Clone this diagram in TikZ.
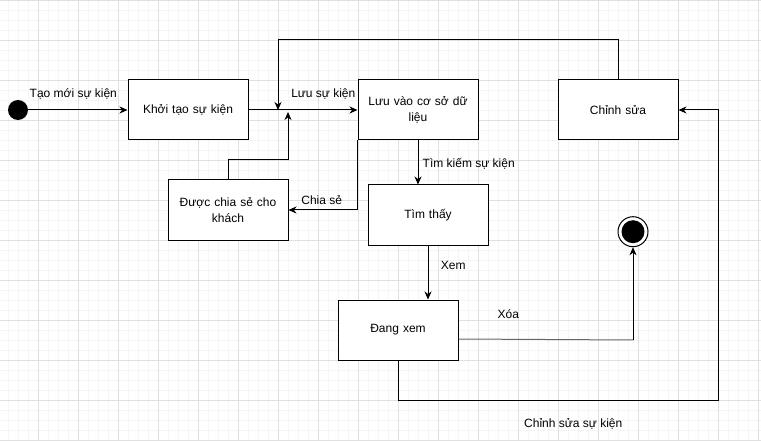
\documentclass[tikz,border=0pt]{standalone}
\usepackage{fontspec}
\setmainfont{Liberation Sans}
\usetikzlibrary{arrows.meta}
\begin{document}
\begin{tikzpicture}[x=1pt,y=-1pt,
  statebox/.style={draw,line width=1pt,fill=white,minimum width=120pt,minimum height=60pt,inner sep=2pt,align=center,text width=112pt,font=\fontsize{12}{15.5}\selectfont},
  lbl/.style={font=\fontsize{12}{14}\selectfont,inner sep=1pt},
  conn/.style={line width=1pt,-{Stealth[length=8pt,width=7pt,inset=2.5pt]}},
  minorg/.style={draw=black!4,line width=0.8pt},
  majorg/.style={draw=black!12,line width=0.8pt}]
\useasboundingbox (0,0) rectangle (761,441);
\fill[white] (0,0) rectangle (761,441);
% grid
\foreach \x in {8,18,...,758} {\draw[minorg] (\x,0) -- (\x,441);}
\foreach \y in {0,10,...,440} {\draw[minorg] (0,\y) -- (761,\y);}
\foreach \x in {38,78,...,758} {\draw[majorg] (\x,0) -- (\x,441);}
\foreach \y in {0,40,...,440} {\draw[majorg] (0,\y) -- (761,\y);}
% nodes
\node[circle,fill=black,minimum size=20pt,inner sep=0pt] (start) at (18,110) {};
\node[statebox] (khoi) at (188,110) {Khởi tạo sự kiện};
\node[statebox] (luu) at (418,110) {Lưu vào cơ sở dữ\\liệu};
\node[statebox] (chinh) at (618,110) {Chỉnh sửa};
\node[statebox] (duoc) at (228,210) {Được chia sẻ cho\\khách};
\node[statebox] (tim) at (428,215) {Tìm thấy};
\node[statebox] (dang) at (398,330) {Đang xem};
\node[circle,draw,line width=1pt,fill=white,minimum size=30pt,inner sep=0pt] (end) at (633,231.7) {};
\node[circle,fill=black,minimum size=23pt,inner sep=0pt] (endin) at (end.center) {};
\coordinate (j1) at (278,110);
\coordinate (j2) at (288,112);
\coordinate (xo) at (633,340);
% connectors
\draw[conn] (start) -- (khoi);
\draw[conn] (khoi) -- (luu);
\draw[conn] (chinh.north) -- ++(0,-40) -| (j1);
\draw[conn] (duoc.north) -- ++(0,-20) -| (j2);
\draw[conn] (luu.south west) |- (duoc.east);
\draw[conn] (luu.south) -- (luu.south |- tim.north);
\draw[conn] (tim.south) -- (tim.south |- dang.north);
\draw[line width=1pt,draw=black!60] (dang.east |- 0,339) -- (xo);
\draw[conn] (xo) -- (end.south);
\draw[conn] (dang.south) -- ++(0,40) -| (718,110) -- (chinh.east);
% labels
\node[lbl] (l1) at (73.3,94.3) {Tạo mới sự kiện};
\node[lbl] (l2) at (323.3,94.3) {Lưu sự kiện};
\node[lbl] (l3) at (321.7,200) {Chia sẻ};
\node[lbl] (l4) at (468.7,164.3) {Tìm kiếm sự kiện};
\node[lbl] (l5) at (453.3,265) {Xem};
\node[lbl] (l6) at (508.3,314) {Xóa};
\node[lbl] (l7) at (573.3,424.3) {Chỉnh sửa sự kiện};
\end{tikzpicture}
\end{document}
